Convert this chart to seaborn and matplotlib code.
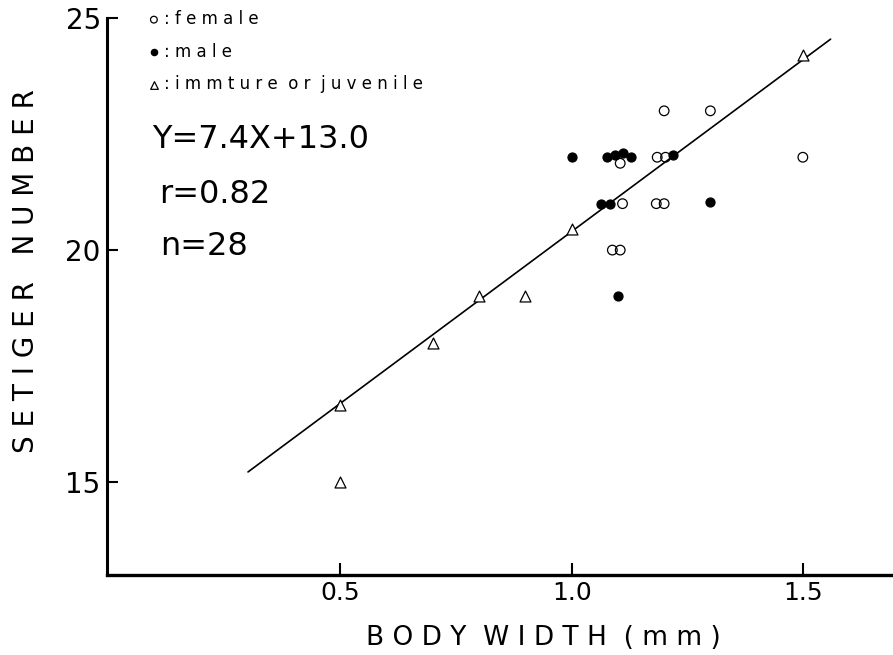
import matplotlib
matplotlib.use("Agg")
import matplotlib.pyplot as plt
import seaborn as sns
import pandas as pd

# ---- data ----
female_width = [1.20, 1.30, 1.105, 1.185, 1.203, 1.50, 1.11, 1.183, 1.20, 1.088, 1.105]
female_setiger = [23, 23, 21.87, 22, 22, 22, 21, 21, 21, 20, 20]

male_width = [1.00, 1.077, 1.094, 1.111, 1.128, 1.22, 1.063, 1.082, 1.30, 1.10]
male_setiger = [22, 22, 22.05, 22.1, 22, 22.05, 21, 21, 21.03, 19]

juv_width = [0.5, 0.5, 0.7, 0.8, 0.9, 1.0, 1.5]
juv_setiger = [16.66, 15, 18, 19, 19, 20.45, 24.2]

fit_slope = 7.4
fit_intercept = 13.0
fit_x = [0.30, 1.56]

xticks = [0.5, 1.0, 1.5]
xtick_labels = ["0.5", "1.0", "1.5"]
yticks = [15, 20, 25]
ytick_labels = ["15", "20", "25"]

legend_labels = ["female", "male", "immture or juvenile"]
stats_text = ["Y=7.4X+13.0", "r=0.82", "n=28"]
x_label = "BODY WIDTH (mm)"
y_label = "SETIGER NUMBER"


def spaced(s, word_gap=3):
    """Letter-spaced rendering like the original typesetting."""
    return (" " * word_gap).join(" ".join(w) for w in s.split(" "))


sns.set_style("ticks")
plt.rcParams["font.family"] = ["DejaVu Sans"]
plt.rcParams["text.color"] = "black"
plt.rcParams["axes.labelcolor"] = "black"

fig = plt.figure(figsize=(8.93, 6.55), dpi=100)
ax = fig.add_axes([107 / 893, 80 / 655, 786 / 893, 557 / 655])

fit_df = pd.DataFrame({"x": fit_x,
                       "y": [fit_slope * v + fit_intercept for v in fit_x]})
sns.lineplot(data=fit_df, x="x", y="y", color="black", linewidth=1.2,
             ax=ax, zorder=2)

sns.scatterplot(x=female_width, y=female_setiger, marker="o", s=48,
                color="black", facecolors="none", edgecolor="black",
                linewidth=0.9, label=": " + spaced(legend_labels[0], 2),
                ax=ax, zorder=3)
sns.scatterplot(x=male_width, y=male_setiger, marker="o", s=42,
                color="black", facecolors="black", edgecolor="black",
                linewidth=0.9, label=": " + spaced(legend_labels[1], 2),
                ax=ax, zorder=4)
sns.scatterplot(x=juv_width, y=juv_setiger, marker="^", s=62,
                color="black", facecolors="white", edgecolor="black",
                linewidth=0.9, label=": " + spaced(legend_labels[2], 2),
                ax=ax, zorder=3)

ax.legend(loc="upper left", bbox_to_anchor=(0.163, 0.9847),
          bbox_transform=fig.transFigure, frameon=False, borderpad=0,
          borderaxespad=0, handlelength=1.0, handletextpad=0.1,
          labelspacing=0.88, markerscale=0.7, fontsize=12)

ax.set_xlim(-0.005, 1.695)
ax.set_ylim(13, 25)
ax.set_xticks(xticks)
ax.set_xticklabels(xtick_labels, fontsize=18)
ax.set_yticks(yticks)
ax.set_yticklabels(ytick_labels, fontsize=20)
ax.tick_params(axis="x", direction="in", length=9, width=1.5, pad=4,
               colors="black")
ax.tick_params(axis="y", direction="in", length=8, width=1.5, pad=4.5,
               colors="black")

for side in ("top", "right"):
    ax.spines[side].set_visible(False)
ax.spines["left"].set_linewidth(2.2)
ax.spines["bottom"].set_linewidth(2.4)
ax.spines["left"].set_color("black")
ax.spines["bottom"].set_color("black")

ax.set_xlabel(spaced(x_label, 2), fontsize=19, color="black")
ax.xaxis.set_label_coords(0.555, -0.09)
ax.set_ylabel(spaced(y_label, 3), fontsize=20, color="black")
ax.yaxis.set_label_coords(-0.085, 0.546)

stat_pos = [(152, 148), (159, 203), (160, 255)]
for txt, (px, py) in zip(stats_text, stat_pos):
    fig.text(px / 893, 1 - py / 655, txt, fontsize=23, ha="left",
             va="baseline")

fig.savefig("out.png", dpi=100)
